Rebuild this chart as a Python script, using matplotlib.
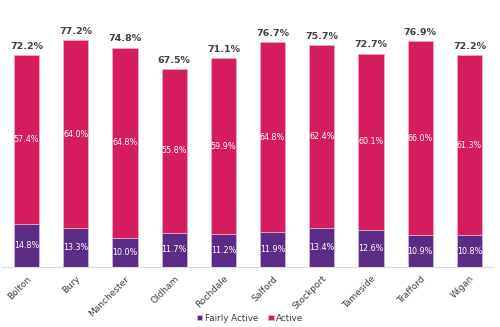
import matplotlib.pyplot as plt
import numpy as np

areas = ["Bolton", "Bury", "Manchester", "Oldham", "Rochdale",
         "Salford", "Stockport", "Tameside", "Trafford", "Wigan"]
fairly_active = [14.8, 13.3, 10.0, 11.7, 11.2, 11.9, 13.4, 12.6, 10.9, 10.8]
active = [57.4, 64.0, 64.8, 55.8, 59.9, 64.8, 62.4, 60.1, 66.0, 61.3]
totals = [72.2, 77.2, 74.8, 67.5, 71.1, 76.7, 75.7, 72.7, 76.9, 72.2]

purple = "#5b2c86"
pink = "#d41c5e"

fig = plt.figure(figsize=(5, 3.27), dpi=100)
ax = fig.add_axes([0.004, 0.183, 0.984, 0.817])

x = np.arange(len(areas))
w = 0.51
b1 = ax.bar(x, fairly_active, w, color=purple, edgecolor="#c9b6dc", linewidth=0.6, label="Fairly Active")
b2 = ax.bar(x, active, w, bottom=fairly_active, color=pink, edgecolor="#f2a6c2", linewidth=0.6, label="Active")

for i in range(len(areas)):
    ax.text(x[i], fairly_active[i] / 2, f"{fairly_active[i]:.1f}%", ha="center", va="center",
            color="white", fontsize=5.8)
    ax.text(x[i], fairly_active[i] + active[i] / 2, f"{active[i]:.1f}%", ha="center", va="center",
            color="white", fontsize=5.8)
    ax.text(x[i], totals[i] + 1.5, f"{totals[i]:.1f}%", ha="center", va="bottom",
            color="#404040", fontsize=6.8, fontweight="bold")

ax.set_xlim(-0.5, len(areas) - 0.5)
ax.set_ylim(0, 91)
ax.set_xticks(x)
ax.set_xticklabels(areas, rotation=45, ha="right", rotation_mode="anchor",
                   fontsize=6.5, color="#404040")
ax.tick_params(axis="x", length=0, pad=5)
ax.set_yticks([])
for s in ["top", "left", "right"]:
    ax.spines[s].set_visible(False)
ax.spines["bottom"].set_color("#d9d9d9")
ax.spines["bottom"].set_linewidth(0.8)

fig.legend(handles=[b1, b2], loc="center", bbox_to_anchor=(0.5, 0.027), ncol=2, frameon=False,
           fontsize=6.3, handlelength=0.6, handleheight=0.6, handletextpad=0.3,
           columnspacing=1.2, labelcolor="#404040")

plt.savefig("out.png", dpi=100)
plt.close()
